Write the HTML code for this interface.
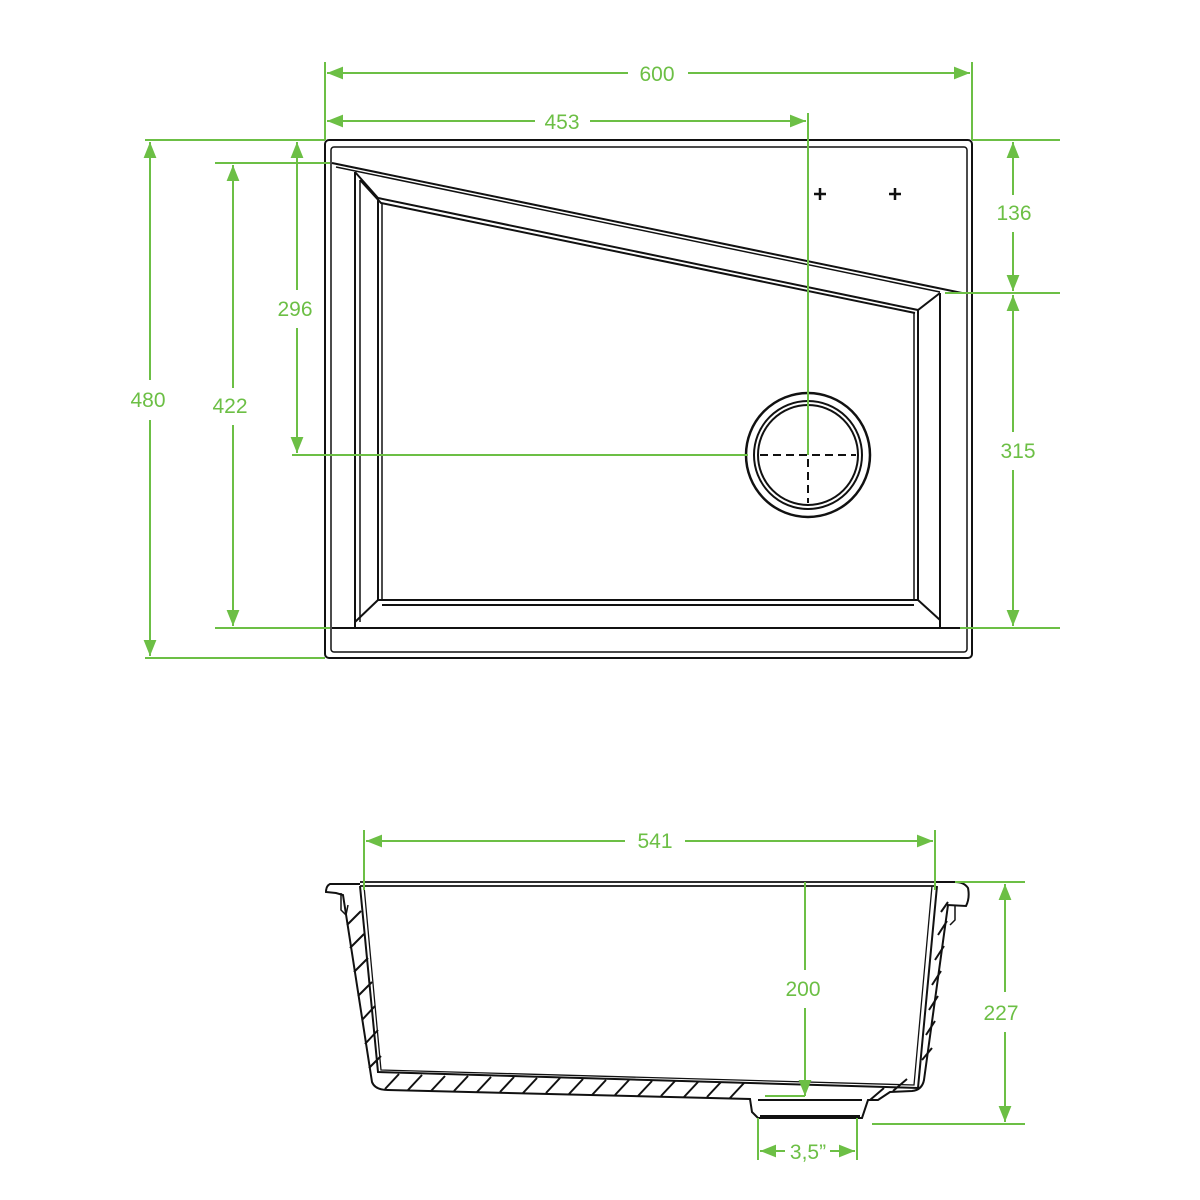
<!DOCTYPE html>
<html><head><style>html,body{margin:0;padding:0;background:#fff}svg{display:block}</style></head>
<body>
<svg width="1200" height="1200" viewBox="0 0 1200 1200" xmlns="http://www.w3.org/2000/svg">
<defs>
<marker id="a" viewBox="0 0 10 10" refX="10" refY="5" markerWidth="8" markerHeight="8" orient="auto-start-reverse"><path d="M0,1 L10,5 L0,9 Z" fill="#6cbf45"/></marker>
</defs>
<g stroke="#111" fill="none" stroke-width="2">
<!-- top view -->
<rect x="325" y="140" width="647" height="518" rx="4"/>
<rect x="331" y="147" width="636" height="505" rx="3" stroke-width="1.5"/>
<line x1="332" y1="163" x2="962" y2="293"/>
<line x1="336" y1="167" x2="940" y2="292" stroke-width="1.5"/>
<path d="M355,172 L378,198 L918,310 L940,293"/>
<path d="M360,180 L381,203 L915,313"/>
<line x1="355" y1="172" x2="355" y2="628"/>
<line x1="360" y1="180" x2="360" y2="622" stroke-width="1.5"/>
<line x1="378" y1="198" x2="378" y2="600"/>
<line x1="382" y1="203" x2="382" y2="600" stroke-width="1.5"/>
<line x1="940" y1="293" x2="940" y2="628"/>
<line x1="918" y1="310" x2="918" y2="600"/>
<line x1="914" y1="313" x2="914" y2="600" stroke-width="1.5"/>
<path d="M378,600 L918,600 L940,620"/>
<path d="M382,605 L914,605"/>
<line x1="355" y1="622" x2="378" y2="600"/>
<line x1="332" y1="628" x2="965" y2="628"/>
<circle cx="808" cy="455" r="62" stroke-width="2.5"/>
<circle cx="808" cy="455" r="54"/>
<circle cx="808" cy="455" r="50"/>
<path d="M760,455 H856 M808,407 V503" stroke-dasharray="8,5"/>
<path d="M814,194 h12 M820,188 v12 M889,194 h12 M895,188 v12" stroke-width="2.5"/>
<!-- side view -->
<path d="M360,882 H935 M360,886 H935" stroke-width="1.8"/>
<path d="M360,884 L330,884 Q326,886 326,892 L336,893 L343,895 L372,1082 Q375,1090 388,1090 L750,1099 L752,1112 L758,1118 L862,1118 L868,1100 L878,1100 L890,1092 L912,1091 Q922,1090 924,1080 L948,905 L966,906 Q970,898 968,888 Q964,882 955,882 L935,882"/>
<path d="M360,886 L378,1072 L918,1088 L937,886"/>
<path d="M364,886 L381,1070 L914,1085 L932,886" stroke-width="1.3"/>
<path d="M341,893 L341,910 L346,915 L348,905" stroke-width="1.5"/>
<path d="M955,906 L955,920 L950,925" stroke-width="1.5"/>
<path d="M758,1100 L862,1100 M760,1116 L860,1116" stroke-width="2"/>
<g stroke-width="2">
<path d="M347,925 l14,-14 M350,948 l14,-14 M354,972 l14,-14 M358,996 l14,-14 M362,1020 l13,-14 M365,1044 l13,-14 M369,1068 l12,-12"/>
<path d="M385,1089 l14,-15 M408,1090 l14,-15 M431,1091 l14,-15 M454,1091 l14,-15 M477,1092 l14,-15 M500,1092 l14,-15 M523,1093 l14,-15 M546,1093 l14,-15 M569,1094 l14,-15 M592,1095 l14,-15 M615,1095 l14,-15 M638,1096 l14,-15 M661,1096 l14,-15 M684,1097 l14,-15 M707,1097 l14,-15 M730,1098 l14,-15"/>
<path d="M870,1100 l14,-12 M893,1091 l14,-12 M922,1060 l10,-12 M926,1035 l9,-14 M929,1010 l9,-14 M932,985 l9,-14 M935,960 l9,-14 M938,935 l9,-14 M941,912 l7,-10"/>
</g>
</g>
<g stroke="#6cbf45" stroke-width="2" fill="none">
<line x1="325" y1="62" x2="325" y2="140"/><line x1="972" y1="62" x2="972" y2="140"/>
<line x1="327" y1="73" x2="628" y2="73" marker-start="url(#a)"/><line x1="688" y1="73" x2="970" y2="73" marker-end="url(#a)"/>
<line x1="327" y1="121" x2="535" y2="121" marker-start="url(#a)"/><line x1="590" y1="121" x2="806" y2="121" marker-end="url(#a)"/>
<line x1="808" y1="113" x2="808" y2="455"/>
<line x1="145" y1="140" x2="325" y2="140"/><line x1="145" y1="658" x2="325" y2="658"/>
<line x1="215" y1="163" x2="330" y2="163"/><line x1="215" y1="628" x2="330" y2="628"/>
<line x1="292" y1="455" x2="748" y2="455"/>
<line x1="150" y1="142" x2="150" y2="380" marker-start="url(#a)"/><line x1="150" y1="420" x2="150" y2="656" marker-end="url(#a)"/>
<line x1="233" y1="165" x2="233" y2="388" marker-start="url(#a)"/><line x1="233" y1="425" x2="233" y2="626" marker-end="url(#a)"/>
<line x1="297" y1="142" x2="297" y2="290" marker-start="url(#a)"/><line x1="297" y1="328" x2="297" y2="453" marker-end="url(#a)"/>
<line x1="972" y1="140" x2="1060" y2="140"/><line x1="945" y1="293" x2="1060" y2="293"/><line x1="960" y1="628" x2="1060" y2="628"/>
<line x1="1013" y1="142" x2="1013" y2="195" marker-start="url(#a)"/><line x1="1013" y1="232" x2="1013" y2="291" marker-end="url(#a)"/>
<line x1="1013" y1="295" x2="1013" y2="432" marker-start="url(#a)"/><line x1="1013" y1="470" x2="1013" y2="626" marker-end="url(#a)"/>
<line x1="364" y1="830" x2="364" y2="890"/><line x1="935" y1="830" x2="935" y2="890"/>
<line x1="366" y1="841" x2="625" y2="841" marker-start="url(#a)"/><line x1="685" y1="841" x2="933" y2="841" marker-end="url(#a)"/>
<line x1="805" y1="882" x2="805" y2="970"/><line x1="805" y1="1008" x2="805" y2="1096" marker-end="url(#a)"/>
<line x1="765" y1="1096" x2="805" y2="1096" />
<line x1="955" y1="882" x2="1025" y2="882"/><line x1="872" y1="1124" x2="1025" y2="1124"/>
<line x1="1005" y1="884" x2="1005" y2="992" marker-start="url(#a)"/><line x1="1005" y1="1032" x2="1005" y2="1122" marker-end="url(#a)"/>
<line x1="758" y1="1118" x2="758" y2="1160"/><line x1="857" y1="1118" x2="857" y2="1160"/>
<line x1="760" y1="1151" x2="785" y2="1151" marker-start="url(#a)"/><line x1="830" y1="1151" x2="855" y2="1151" marker-end="url(#a)"/>
</g>
<g fill="#6cbf45" font-family="Liberation Sans, sans-serif" font-size="21" text-anchor="middle">
<text x="657" y="81">600</text>
<text x="562" y="129">453</text>
<text x="148" y="407">480</text>
<text x="230" y="413">422</text>
<text x="295" y="316">296</text>
<text x="1014" y="220">136</text>
<text x="1018" y="458">315</text>
<text x="655" y="848">541</text>
<text x="803" y="996">200</text>
<text x="1001" y="1020">227</text>
<text x="808" y="1159">3,5”</text>
</g>
</svg>
</body></html>
